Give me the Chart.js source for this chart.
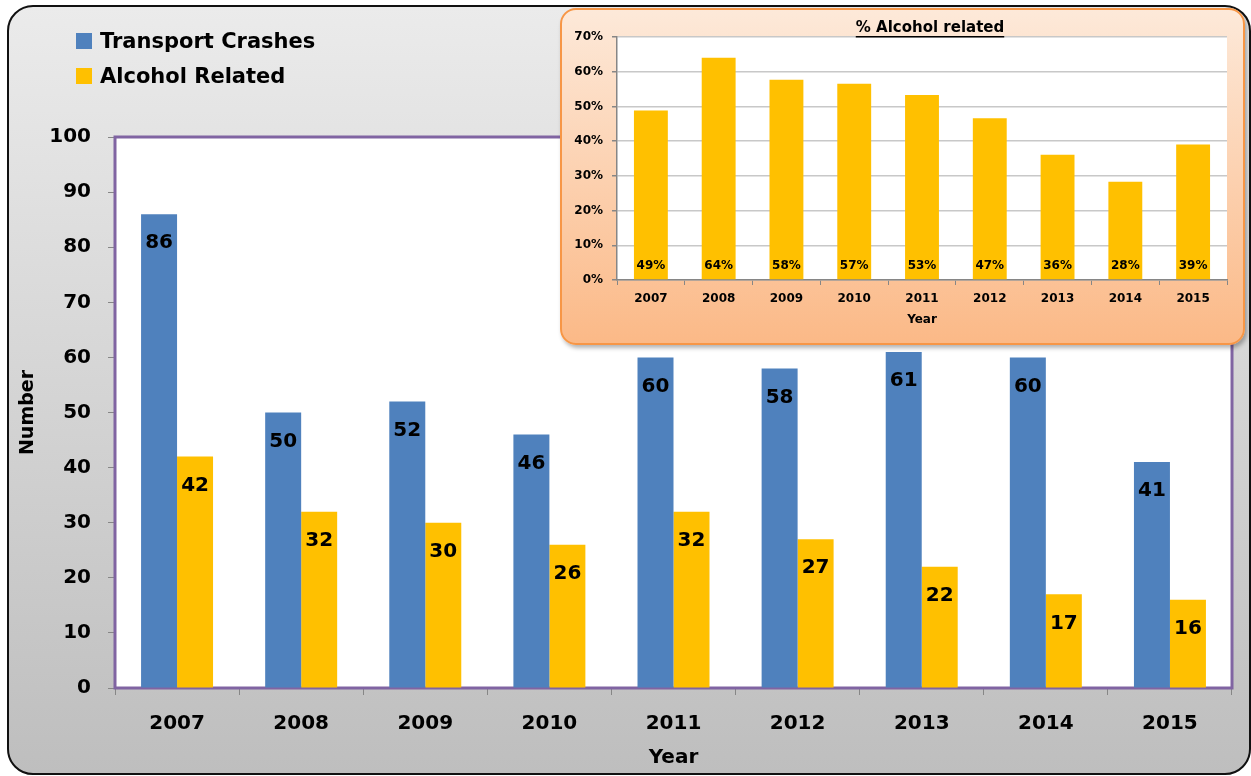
<!DOCTYPE html>
<html><head><meta charset="utf-8">
<script src="https://cdn.jsdelivr.net/npm/chart.js@4.4.0/dist/chart.umd.min.js"></script>
<style>
html,body{margin:0;padding:0;width:1251px;height:776px;overflow:hidden;background:#fff;font-family:"DejaVu Sans",sans-serif;}
#frame{position:absolute;left:7px;top:5px;width:1240px;height:766px;border:2px solid #111;border-radius:26px;background:linear-gradient(#ebebeb,#bebebe);box-sizing:content-box;}
#main{position:absolute;left:0;top:0;}
#legend{position:absolute;left:76px;top:23px;font-weight:bold;font-size:21px;color:#000;}
.item{display:flex;align-items:center;height:35px;}
.sw{width:16px;height:16px;margin-right:8px;}
#inset{position:absolute;left:560px;top:8px;width:681px;height:333px;border:2px solid #f79646;border-radius:16px;background:linear-gradient(#fde9d9,#fbb987);box-shadow:2px 3px 4px rgba(0,0,0,0.3);}
#insetc{position:absolute;left:0;top:0;}
</style>
</head><body>
<div id="frame"></div>
<canvas id="main" width="1251" height="776"></canvas>
<div id="legend">
  <div class="item"><div class="sw" style="background:#4f81bd"></div>Transport Crashes</div>
  <div class="item"><div class="sw" style="background:#ffc000"></div>Alcohol Related</div>
</div>
<div id="inset"><canvas id="insetc" width="681" height="333"></canvas></div>
<script>
const years = ['2007','2008','2009','2010','2011','2012','2013','2014','2015'];
const transportCrashes = [86, 50, 52, 46, 60, 58, 61, 60, 41];
const alcoholRelated = [42, 32, 30, 26, 32, 27, 22, 17, 16];
const pctAlcohol = [48.8, 64, 57.7, 56.5, 53.3, 46.6, 36.1, 28.3, 39.0];
const pctLabels = ['49%','64%','58%','57%','53%','47%','36%','28%','39%'];

const FONT = '"DejaVu Sans", sans-serif';
Chart.defaults.font.family = FONT;
Chart.defaults.color = '#000';

const plotBg = {
  id: 'plotBg',
  beforeDraw(chart, args, opts) {
    const {ctx, chartArea: a} = chart;
    ctx.save();
    ctx.fillStyle = '#fff';
    ctx.fillRect(a.left, a.top, a.right - a.left, a.bottom - a.top);
    ctx.restore();
  },
  beforeDatasetsDraw(chart, args, opts) {
    if (!opts.border) return;
    const {ctx, chartArea: a} = chart;
    ctx.save();
    ctx.strokeStyle = opts.border;
    ctx.lineWidth = 3;
    ctx.strokeRect(a.left, a.top, a.right - a.left, a.bottom - a.top);
    ctx.restore();
  }
};

const barLabels = {
  id: 'barLabels',
  afterDatasetsDraw(chart, args, opts) {
    const ctx = chart.ctx;
    ctx.save();
    ctx.font = 'bold 20px ' + FONT;
    ctx.fillStyle = '#000';
    ctx.textAlign = 'center';
    ctx.textBaseline = 'middle';
    chart.data.datasets.forEach((ds, di) => {
      chart.getDatasetMeta(di).data.forEach((bar, i) => {
        ctx.fillText(String(ds.data[i]), bar.x, bar.y + 29);
      });
    });
    ctx.restore();
  }
};

new Chart(document.getElementById('main'), {
  type: 'bar',
  data: {
    labels: years,
    datasets: [
      {label: 'Transport Crashes', data: transportCrashes, backgroundColor: '#4f81bd'},
      {label: 'Alcohol Related', data: alcoholRelated, backgroundColor: '#ffc000'}
    ]
  },
  options: {
    responsive: false, animation: false, devicePixelRatio: 1,
    categoryPercentage: 0.58, barPercentage: 1.0,
    layout: {padding: {left: 10, right: 19, top: 137, bottom: 0}},
    plugins: {legend: {display: false}, tooltip: {enabled: false}, plotBg: {border: '#8064a2'}},
    scales: {
      x: {
        grid: {drawOnChartArea: false, drawTicks: true, tickLength: 7, color: '#868686', offset: true},
        border: {color: '#868686', width: 2},
        ticks: {font: {size: 20, weight: 'bold'}, padding: 17, color: '#000'},
        title: {display: true, text: 'Year', font: {size: 20, weight: 'bold'}, color: '#000', padding: {top: 0, bottom: 6}},
        afterFit(s) { s.height = 88; }
      },
      y: {
        min: 0, max: 100,
        ticks: {stepSize: 10, font: {size: 20, weight: 'bold'}, padding: 17, color: '#000'},
        grid: {drawOnChartArea: false, drawTicks: true, tickLength: 7, color: '#868686'},
        border: {color: '#868686', width: 2},
        title: {display: true, text: 'Number', font: {size: 19, weight: 'bold'}, color: '#000', padding: {top: 7, bottom: 0}},
        afterFit(s) { s.width = 105; }
      }
    }
  },
  plugins: [plotBg, barLabels]
});

const insetDeco = {
  id: 'insetDeco',
  afterDatasetsDraw(chart) {
    const ctx = chart.ctx;
    const y0 = chart.scales.y.getPixelForValue(0);
    ctx.save();
    ctx.font = 'bold 12px ' + FONT;
    ctx.fillStyle = '#000';
    ctx.textAlign = 'center';
    ctx.textBaseline = 'middle';
    chart.getDatasetMeta(0).data.forEach((bar, i) => {
      ctx.fillText(pctLabels[i], bar.x, y0 - 14);
    });
    ctx.restore();
  },
  afterDraw(chart) {
    const ctx = chart.ctx;
    const a = chart.chartArea;
    const text = '% Alcohol related';
    ctx.save();
    ctx.font = 'bold 15px ' + FONT;
    ctx.fillStyle = '#000';
    ctx.textAlign = 'center';
    ctx.textBaseline = 'middle';
    const cx = (a.left + a.right) / 2 + 8;
    const cy = 18;
    ctx.fillText(text, cx, cy);
    const w = ctx.measureText(text).width;
    ctx.fillRect(cx - w / 2, cy + 8, w, 1.5);
    ctx.restore();
  }
};

new Chart(document.getElementById('insetc'), {
  type: 'bar',
  data: {
    labels: years,
    datasets: [{label: '% Alcohol related', data: pctAlcohol, backgroundColor: '#ffc000'}]
  },
  options: {
    responsive: false, animation: false, devicePixelRatio: 1,
    categoryPercentage: 0.5, barPercentage: 1.0,
    layout: {padding: {left: 2, right: 16, top: 27, bottom: 0}},
    plugins: {legend: {display: false}, tooltip: {enabled: false}, plotBg: {border: null}},
    scales: {
      x: {
        grid: {drawOnChartArea: false, drawTicks: true, tickLength: 5, color: '#868686', offset: true},
        border: {color: '#868686', width: 1.5},
        ticks: {font: {size: 12, weight: 'bold'}, padding: 7, color: '#000'},
        title: {display: true, text: 'Year', font: {size: 12, weight: 'bold'}, color: '#000', padding: {top: 0, bottom: 16}},
        afterFit(s) { s.height = 63; }
      },
      y: {
        min: 0, max: 70,
        ticks: {stepSize: 10, font: {size: 12, weight: 'bold'}, padding: 9, color: '#000', callback: v => v + '%'},
        grid: {color: '#c8c8c8', lineWidth: 1.5, tickLength: 5, tickColor: '#868686'},
        border: {color: '#868686', width: 1.5},
        afterFit(s) { s.width = 53; }
      }
    }
  },
  plugins: [plotBg, insetDeco]
});
</script>
</body></html>
